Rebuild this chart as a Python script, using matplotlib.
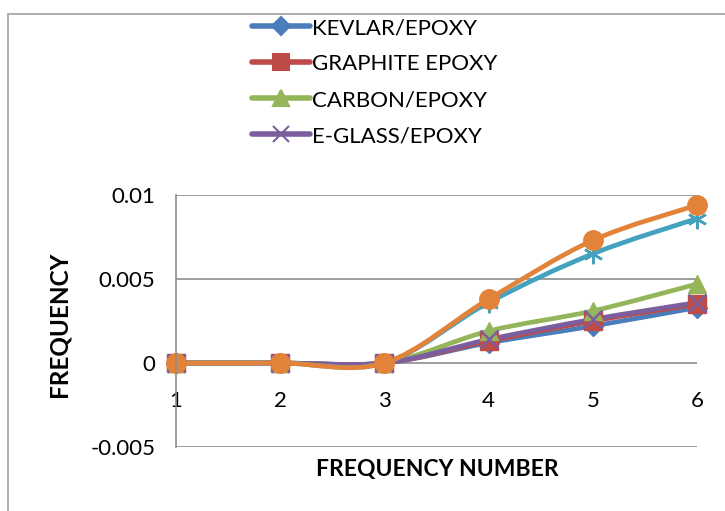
import matplotlib
matplotlib.use("Agg")
import matplotlib.pyplot as plt
from matplotlib.path import Path
from matplotlib.patches import PathPatch, Rectangle
from matplotlib.lines import Line2D
import numpy as np

plt.rcParams['font.family'] = ['Lato', 'DejaVu Sans']

x = [1, 2, 3, 4, 5, 6]
kevlar = [0, 0, 0, 0.0012, 0.0022, 0.0033]
graphite = [0, 0, 0, 0.0013, 0.0025, 0.0035]
carbon = [0, 0, 0, 0.0019, 0.0031, 0.0047]
eglass = [0, 0, 0, 0.0014, 0.0026, 0.0036]
series5 = [0, 0, 0, 0.0036, 0.0065, 0.0086]
series6 = [0, 0, 0, 0.0038, 0.0073, 0.0094]

names = ['KEVLAR/EPOXY', 'GRAPHITE EPOXY', 'CARBON/EPOXY', 'E-GLASS/EPOXY', None, None]
data = [kevlar, graphite, carbon, eglass, series5, series6]
colors = ['#4A7DBA', '#BE4B48', '#94B55A', '#7B5E9E', '#44A2BF', '#E3833A']
markers = ['D', 's', '^', 'x', (6, 2, 0), 'o']
msizes = [10, 13, 13, 13, 14, 14]

yticks = [-0.005, 0, 0.005, 0.01]
ytick_labels = ['-0.005', '0', '0.005', '0.01']

W, H = 725, 511
fig = plt.figure(figsize=(W / 100, H / 100), dpi=100)
fig.patches.append(Rectangle((8 / W, -0.1), 1.2, 1.1 - 14 / H, transform=fig.transFigure,
                             fill=False, edgecolor='#A0A0A0', linewidth=1.2))

ax = fig.add_axes([176 / W, 1 - 447 / H, (697 - 176) / W, (447 - 195) / H])
ax.set_xlim(1, 6)
ax.set_ylim(-0.005, 0.01)


def smooth_path(xs, ys):
    xs = np.asarray(xs, float)
    ys = np.asarray(ys, float)
    n = len(xs)
    verts = [(xs[0], ys[0])]
    codes = [Path.MOVETO]
    for i in range(n - 1):
        p0 = np.array([xs[max(i - 1, 0)], ys[max(i - 1, 0)]])
        p1 = np.array([xs[i], ys[i]])
        p2 = np.array([xs[i + 1], ys[i + 1]])
        p3 = np.array([xs[min(i + 2, n - 1)], ys[min(i + 2, n - 1)]])
        c1 = p1 + (p2 - p0) / 6
        c2 = p2 - (p3 - p1) / 6
        verts += [tuple(c1), tuple(c2), tuple(p2)]
        codes += [Path.CURVE4] * 3
    return Path(verts, codes)


for ys, c, m, ms in zip(data, colors, markers, msizes):
    patch = PathPatch(smooth_path(x, ys), fill=False, edgecolor=c, linewidth=3.4,
                      capstyle='round', joinstyle='round', clip_on=False)
    ax.add_patch(patch)
    if m == 'x' or isinstance(m, tuple):
        ax.plot(x, ys, linestyle='none', marker=m, markersize=ms, color=c,
                markeredgewidth=1.8, clip_on=False)
    else:
        ax.plot(x, ys, linestyle='none', marker=m, markersize=ms, color=c,
                markeredgecolor=c, clip_on=False)

for yv in [0, 0.005, 0.01, -0.005]:
    ax.axhline(yv, color='#8C8C8C', linewidth=1.2, zorder=0.5)

for s in ['top', 'right', 'bottom']:
    ax.spines[s].set_visible(False)
ax.spines['left'].set_color('#8C8C8C')
ax.spines['left'].set_linewidth(1.2)

ax.set_yticks(yticks)
ax.set_yticklabels(ytick_labels)
ax.set_xticks(x)
ax.set_xticklabels([str(v) for v in x])
ax.tick_params(axis='both', length=0, labelsize=16, colors='black')
ax.tick_params(axis='y', pad=15)
ax.spines['bottom'].set_position(('data', 0))
ax.tick_params(axis='x', pad=20)

fig.text(437 / W, 1 - 469 / H, 'FREQUENCY NUMBER', ha='center', va='center',
         fontsize=16.5, fontweight='bold')
fig.text(59 / W, 1 - 324 / H, 'FREQUENCY', ha='center', va='center', rotation=90,
         fontsize=17.5, fontweight='bold')

handles = []
labels = []
for name, c, m, ms in zip(names, colors, markers, msizes):
    if name is None:
        continue
    handles.append(Line2D([0], [0], color=c, linewidth=4, marker=m,
                          markersize=ms * 0.9, markeredgewidth=1.5,
                          solid_capstyle='round'))
    labels.append(name)
fig.legend(handles, labels, loc='upper left', bbox_to_anchor=(232 / W, 1 + 2 / H),
           frameon=False, fontsize=16, handlelength=2.6, handletextpad=0.1,
           labelspacing=0.72)

fig.savefig('out.png', dpi=100)
